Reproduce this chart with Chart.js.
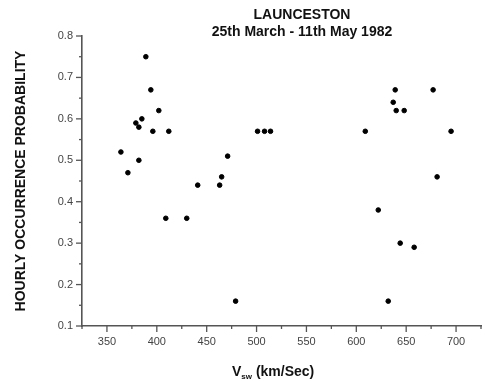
<!DOCTYPE html>
<html>
<head>
<meta charset="utf-8">
<script src="https://cdn.jsdelivr.net/npm/chart.js@4"></script>
<style>
  body { margin: 0; background: #fff; }
  #caja { width: 485px; height: 381px; }
</style>
</head>
<body>
<div id="caja"><canvas id="grafico" width="485" height="381"></canvas></div>
<script>
// Datos
const velocidades = [364, 371, 379, 382, 382, 385, 389, 394, 396, 402, 409, 412, 430, 441, 463, 465, 471, 479,
    501, 508, 514, 609, 622, 632, 637, 639, 640, 644, 648, 658, 677, 681, 695];
const probabilidades = [0.52, 0.47, 0.59, 0.58, 0.50, 0.60, 0.75, 0.67, 0.57, 0.62, 0.36, 0.57, 0.36, 0.44, 0.44, 0.46, 0.51, 0.16,
    0.57, 0.57, 0.57, 0.57, 0.38, 0.16, 0.64, 0.67, 0.62, 0.30, 0.62, 0.29, 0.67, 0.46, 0.57];
const etiquetasX = [350, 400, 450, 500, 550, 600, 650, 700];
const etiquetasY = ["0.1", "0.2", "0.3", "0.4", "0.5", "0.6", "0.7", "0.8"];

const tituloLineas = ["LAUNCESTON", "25th March - 11th May 1982"];
const tituloY = "HOURLY OCCURRENCE PROBABILITY";

const fuente = "'Liberation Sans', Arial, sans-serif";
const colorEje = "#555";

let puntos = velocidades.map((v, i) => ({ x: v, y: probabilidades[i] }));

// Marcas de los ejes: largas con etiqueta, cortas sin ella
const marcasPlugin = {
    id: "marcas",
    afterDraw(chart) {
        const ctx = chart.ctx;
        const ex = chart.scales.x;
        const ey = chart.scales.y;
        ctx.save();
        ctx.strokeStyle = colorEje;
        ctx.lineWidth = 1.3;
        ex.ticks.forEach(t => {
            let px = ex.getPixelForValue(t.value);
            let largo = t.label !== "" ? 6 : 3;
            ctx.beginPath();
            ctx.moveTo(px, ex.top);
            ctx.lineTo(px, ex.top + largo);
            ctx.stroke();
        });
        ey.ticks.forEach(t => {
            let py = ey.getPixelForValue(t.value);
            let largo = t.label !== "" ? 6 : 3;
            ctx.beginPath();
            ctx.moveTo(ey.right, py);
            ctx.lineTo(ey.right - largo, py);
            ctx.stroke();
        });
        ctx.restore();
    }
};

// Titulo y titulo del eje X (con subindice)
const textosPlugin = {
    id: "textos",
    afterDraw(chart) {
        const ctx = chart.ctx;
        ctx.save();
        ctx.fillStyle = "#111";
        ctx.textAlign = "center";
        ctx.textBaseline = "middle";
        ctx.font = "bold 14px " + fuente;
        ctx.fillText(tituloLineas[0], 302, 15);
        ctx.fillText(tituloLineas[1], 302, 32);

        ctx.textAlign = "left";
        ctx.textBaseline = "alphabetic";
        let x = 232;
        ctx.font = "bold 14px " + fuente;
        ctx.fillText("V", x, 376);
        x += ctx.measureText("V").width;
        ctx.font = "bold 8px " + fuente;
        ctx.fillText("sw", x, 379);
        x += ctx.measureText("sw").width;
        ctx.font = "bold 14px " + fuente;
        ctx.fillText(" (km/Sec)", x, 376);
        ctx.restore();
    }
};

const ctx = document.getElementById("grafico").getContext("2d");
new Chart(ctx, {
    type: "scatter",
    data: {
        datasets: [{
            label: "Launceston",
            data: puntos,
            backgroundColor: "#000",
            borderColor: "#000",
            pointRadius: 2.3,
            pointHoverRadius: 2.3
        }]
    },
    options: {
        responsive: false,
        animation: false,
        layout: { padding: { left: 0, right: 4, top: 36, bottom: 0 } },
        plugins: {
            legend: { display: false },
            tooltip: { enabled: false }
        },
        scales: {
            x: {
                type: "linear",
                min: 325,
                max: 725,
                afterFit: function (scale) { scale.height = 55; },
                border: { display: true, color: colorEje, width: 1.6 },
                grid: { display: true, drawOnChartArea: false, drawTicks: true, tickLength: 6, tickColor: "rgba(0,0,0,0)" },
                ticks: {
                    stepSize: 25,
                    autoSkip: false,
                    maxRotation: 0,
                    padding: 3,
                    color: "#444",
                    font: { family: fuente, size: 11 },
                    callback: function (v) { return etiquetasX.includes(v) ? String(v) : ""; }
                }
            },
            y: {
                type: "linear",
                min: 0.1,
                max: 0.8,
                afterFit: function (scale) { scale.width = 82; },
                border: { display: true, color: colorEje, width: 1.6 },
                grid: { display: true, drawOnChartArea: false, drawTicks: true, tickLength: 6, tickColor: "rgba(0,0,0,0)" },
                title: {
                    display: true,
                    text: tituloY,
                    color: "#111",
                    font: { family: fuente, size: 14, weight: "bold" },
                    padding: { top: 12.6, bottom: 0 }
                },
                ticks: {
                    stepSize: 0.05,
                    autoSkip: false,
                    padding: 3,
                    color: "#444",
                    font: { family: fuente, size: 11 },
                    callback: function (v) {
                        let t = (Math.round(v * 100) / 100).toFixed(2);
                        let etiqueta = (Math.round(v * 10) / 10).toFixed(1);
                        return (t.endsWith("0") && etiquetasY.includes(etiqueta)) ? etiqueta : "";
                    }
                }
            }
        }
    },
    plugins: [marcasPlugin, textosPlugin]
});
</script>
</body>
</html>
